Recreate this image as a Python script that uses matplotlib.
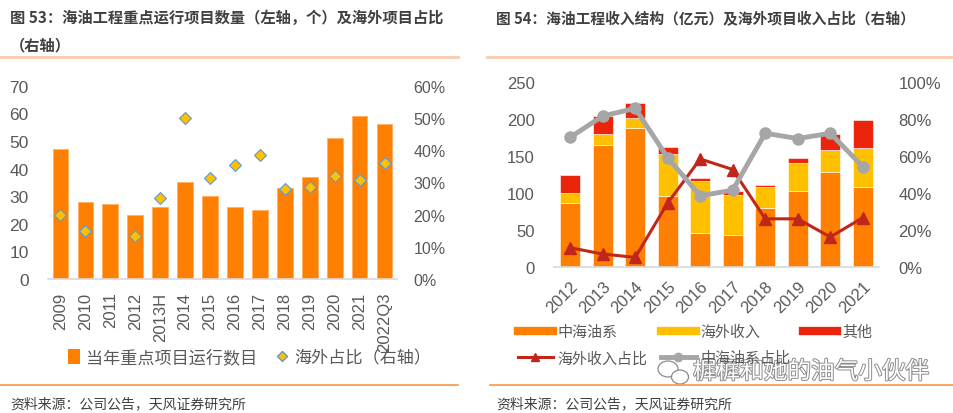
import matplotlib
matplotlib.use("Agg")
import matplotlib.pyplot as plt
import matplotlib.patheffects as pe
from matplotlib.lines import Line2D
from matplotlib.patches import Patch, Ellipse
import numpy as np

plt.rcParams['font.family'] = ['Liberation Sans', 'Noto Sans CJK SC', 'DejaVu Sans']

# ---- data: figure 53 ----
years53 = ["2009", "2010", "2011", "2012", "2013H", "2014", "2015", "2016",
           "2017", "2018", "2019", "2020", "2021", "2022Q3"]
projects = [47, 28, 27, 23, 26, 35, 30, 26, 25, 33, 37, 51, 59, 56]
overseas_share = [0.200, 0.150, np.nan, 0.133, 0.251, 0.501, 0.313, 0.354,
                  0.386, 0.279, 0.287, 0.320, 0.308, 0.361]

# ---- data: figure 54 ----
years54 = ["2012", "2013", "2014", "2015", "2016", "2017", "2018", "2019", "2020", "2021"]
cnooc_rev = [86.6, 165.2, 188.0, 95.2, 45.3, 42.6, 79.4, 101.9, 128.4, 107.3]
overseas_rev = [12.6, 13.9, 13.0, 57.4, 70.9, 55.2, 29.2, 39.0, 30.0, 53.4]
other_rev = [25.1, 24.7, 20.7, 9.9, 4.5, 5.0, 2.3, 6.8, 20.7, 37.7]
overseas_ratio = [0.104, 0.070, 0.052, 0.346, 0.583, 0.526, 0.260, 0.260, 0.162, 0.266]
cnooc_ratio = [0.700, 0.815, 0.856, 0.589, 0.384, 0.415, 0.722, 0.693, 0.722, 0.542]

ORANGE = "#FF8000"
YELLOW = "#FFC000"
RED = "#EA250C"
DARKRED = "#C0261A"
GRAY = "#A6A6A6"
TXT = "#595959"

W, H = 954, 414
fig = plt.figure(figsize=(W / 100, H / 100), dpi=100)
fig.patch.set_facecolor("white")


def px_axes(x0, y_top, x1, y_bot):
    return fig.add_axes([x0 / W, 1 - y_bot / H, (x1 - x0) / W, (y_bot - y_top) / H])


def style(ax, twin):
    for s in ["top", "left", "right"]:
        ax.spines[s].set_visible(False)
        twin.spines[s].set_visible(False)
    twin.spines["bottom"].set_visible(False)
    ax.spines["bottom"].set_color("#D9D9D9")
    ax.spines["bottom"].set_linewidth(1.2)
    ax.tick_params(length=0, colors=TXT, labelsize=12)
    twin.tick_params(length=0, colors=TXT, labelsize=12)


def legend_item(handle, x, y, fs, hl):
    # one legend entry, handle starting at pixel x, centred on pixel y
    leg = fig.legend(handles=[handle], loc="center left", bbox_to_anchor=(x / W, 1 - y / H),
                     frameon=False, fontsize=fs, handlelength=hl, handleheight=0.9,
                     handletextpad=0.35, borderpad=0, borderaxespad=0, labelcolor=TXT)
    return leg


# =============================================================================
# Figure 53
# =============================================================================
ax1 = px_axes(48, 86.7, 397, 280)
ax1b = ax1.twinx()
x53 = np.arange(len(years53))
ax1.bar(x53, projects, width=0.63, color=ORANGE, edgecolor="#FFB060", linewidth=0.6)
ax1b.plot(x53, overseas_share, linestyle="none", marker="D", markersize=6.5,
          markerfacecolor=YELLOW, markeredgecolor="#5B9BD5", markeredgewidth=0.8)
ax1.set_xlim(-0.5, len(years53) - 0.5)
ax1.set_ylim(0, 70)
ax1.set_yticks(range(0, 71, 10))
ax1b.set_ylim(0, 0.6)
ax1b.set_yticks(np.arange(0, 0.61, 0.1))
ax1b.set_yticklabels([f"{int(round(v * 100))}%" for v in np.arange(0, 0.61, 0.1)])
ax1.set_xticks(x53)
ax1.set_xticklabels(years53, rotation=90, fontsize=12)
style(ax1, ax1b)
ax1.tick_params(axis="y", pad=14, labelsize=12.5)
ax1b.tick_params(axis="y", pad=12, labelsize=11.5)
ax1.tick_params(axis="x", pad=9)

legend_item(Patch(facecolor=ORANGE, label="当年重点项目运行数目"), 68, 358, 12.3, 0.7)
legend_item(Line2D([], [], linestyle="none", marker="D", markersize=5,
                   markerfacecolor=YELLOW, markeredgecolor="#5B9BD5",
                   label="海外占比（右轴）"), 276, 358, 12.3, 0.7)

# =============================================================================
# Figure 54
# =============================================================================
ax2 = px_axes(554, 82.7, 879, 268)
ax2b = ax2.twinx()
x54 = np.arange(len(years54))
bw = 0.62
ax2.bar(x54, cnooc_rev, width=bw, color=ORANGE, edgecolor="white", linewidth=0.4)
ax2.bar(x54, overseas_rev, width=bw, bottom=cnooc_rev, color=YELLOW,
        edgecolor="white", linewidth=0.4)
bottom2 = np.array(cnooc_rev) + np.array(overseas_rev)
ax2.bar(x54, other_rev, width=bw, bottom=bottom2, color=RED, edgecolor="white", linewidth=0.4)
ax2b.plot(x54, overseas_ratio, color=DARKRED, linewidth=2.2, marker="^", markersize=8)
ax2b.plot(x54, cnooc_ratio, color=GRAY, linewidth=3.5, marker="o", markersize=8)
ax2.set_xlim(-0.5, len(years54) - 0.5)
ax2.set_ylim(0, 250)
ax2.set_yticks(range(0, 251, 50))
ax2b.set_ylim(0, 1.0)
ax2b.set_yticks(np.arange(0, 1.01, 0.2))
ax2b.set_yticklabels([f"{int(round(v * 100))}%" for v in np.arange(0, 1.01, 0.2)])
ax2.set_xticks(x54)
ax2.set_xticklabels(years54, rotation=45, ha="right", va="top",
                    rotation_mode="anchor", fontsize=12.5)
style(ax2, ax2b)
ax2.tick_params(axis="y", pad=14)
ax2b.tick_params(axis="y", pad=14)
ax2.tick_params(axis="x", pad=8)

fs54 = 10.8
legend_item(Line2D([], [], color=ORANGE, linewidth=6, label="中海油系"), 518, 333, fs54, 2.3)
legend_item(Line2D([], [], color=YELLOW, linewidth=6, label="海外收入"), 661, 333, fs54, 2.3)
legend_item(Line2D([], [], color=RED, linewidth=6, label="其他"), 803, 333, fs54, 2.3)
legend_item(Line2D([], [], color=DARKRED, linewidth=2.2, marker="^", markersize=6,
                   label="海外收入占比"), 518, 359, fs54, 2.3)
legend_item(Line2D([], [], color=GRAY, linewidth=3.5, marker="o", markersize=6,
                   label="中海油系占比"), 661, 359, fs54, 2.3)

# =============================================================================
# Titles, rules, sources
# =============================================================================
title_kw = dict(fontweight="bold", color="#404040",
                family=["Noto Sans CJK SC", "DejaVu Sans"], va="center", ha="left")
fig.text(10 / W, 1 - 18 / H, "图 53：海油工程重点运行项目数量（左轴，个）及海外项目占比",
         fontsize=11.0, **title_kw)
fig.text(10 / W, 1 - 45 / H, "（右轴）", fontsize=11.0, **title_kw)
fig.text(496 / W, 1 - 18 / H, "图 54：海油工程收入结构（亿元）及海外项目收入占比（右轴）",
         fontsize=10.6, **title_kw)

for xa, xb in [(0, 458), (487, 954)]:
    fig.add_artist(Line2D([xa / W, xb / W], [1 - 58 / H, 1 - 58 / H],
                          color="#F8CBAD", linewidth=2))
for xa, xb in [(0, 458), (490, 954)]:
    fig.add_artist(Line2D([xa / W, xb / W], [1 - 386 / H, 1 - 386 / H],
                          color="#F79646", linewidth=1.2))

src_kw = dict(fontsize=10, color="#404040", family=["Noto Sans CJK SC", "DejaVu Sans"],
              va="center", ha="left")
fig.text(10 / W, 1 - 404 / H, "资料来源：公司公告，天风证券研究所", **src_kw)
fig.text(496 / W, 1 - 404 / H, "资料来源：公司公告，天风证券研究所", **src_kw)

# watermark (wechat-style icon + name)
for cx, cy, ew, eh in [(668, 370, 20, 16), (680, 378, 17, 14)]:
    fig.add_artist(Ellipse((cx / W, 1 - cy / H), ew / W, eh / H, transform=fig.transFigure,
                           facecolor="white", edgecolor="#8C8C8C", linewidth=0.9))
fig.text(693 / W, 1 - 373 / H, "樨樨和她的油气小伙伴", fontsize=17, color="white",
         family=["Noto Sans CJK SC", "DejaVu Sans"], va="center", ha="left",
         path_effects=[pe.withStroke(linewidth=1.4, foreground="#8C8C8C")])

fig.savefig("out.png", dpi=100, facecolor="white")
